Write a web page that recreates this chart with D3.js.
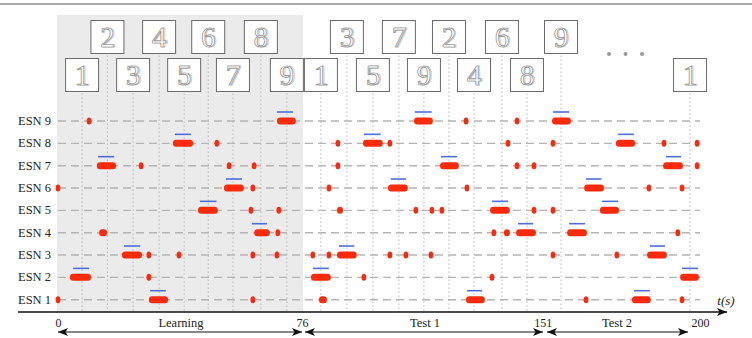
<!DOCTYPE html>
<html>
<head>
<meta charset="utf-8">
<script src="https://cdn.jsdelivr.net/npm/d3@7"></script>
<style>
  body { margin: 0; background: #fff; }
  svg { display: block; font-family: "Liberation Serif", "DejaVu Serif", serif; }
</style>
</head>
<body>
<div id="chart"></div>
<script>
// rows (reservoirs)
var esnNames = ["ESN 1", "ESN 2", "ESN 3", "ESN 4", "ESN 5", "ESN 6", "ESN 7", "ESN 8", "ESN 9"];

// phases: [start, end] in seconds
var phaseNames = ["Learning", "Test 1", "Test 2"];
var phaseBounds = [[0, 76], [76, 151], [151, 200]];
var tickValues = [0, 76, 151, 200];

// presented symbols: time (s), digit, level (0 = upper row, 1 = lower row)
var symbolTimes  = [7.5, 15.4, 23.4, 31.5, 39.3, 46.8, 54.5, 63.2, 71.3,
                    81.9, 90.0, 98.1, 106.2, 114.0, 121.8, 129.6, 138.3, 146.1,
                    156.7, 196.9];
var symbolDigits = [1, 2, 3, 4, 5, 6, 7, 8, 9,
                    1, 3, 5, 7, 9, 2, 4, 6, 8,
                    9, 1];
var symbolLevel  = [1, 0, 1, 0, 1, 0, 1, 0, 1,
                    1, 0, 1, 0, 1, 0, 1, 0, 1,
                    0, 1];

// target windows (blue): [esn, start, end]
var targets = [
  [2, 4.7, 9.7], [7, 12.5, 17.5], [3, 20.6, 25.6], [1, 28.7, 33.6], [8, 36.4, 41.4],
  [5, 44.2, 49.4], [6, 52.3, 57.3], [4, 60.4, 65.1], [9, 68.2, 73.2],
  [2, 79.4, 84.4], [3, 87.5, 92.3], [8, 95.3, 100.5], [6, 103.7, 108.4], [9, 111.2, 116.4],
  [7, 119.3, 124.3], [1, 127.4, 132.1], [5, 135.2, 140.2], [4, 143.3, 148.0],
  [9, 154.2, 159.2], [4, 159.2, 164.2], [6, 164.5, 169.3], [5, 169.5, 174.5],
  [8, 174.5, 179.4], [1, 179.4, 184.4], [3, 184.4, 189.1], [7, 189.4, 194.1], [2, 194.4, 199.4]
];

// detections (red): [esn, start, end]; start == end is a single spike
var detections = [
  [9, 9.7, 9.7], [9, 68.2, 74.1], [9, 110.9, 116.8], [9, 127.1, 127.1], [9, 143.0, 143.0], [9, 153.9, 159.8],
  [8, 35.8, 42.1], [8, 49.5, 49.5], [8, 87.2, 87.2], [8, 95.0, 101.2], [8, 103.4, 103.4], [8, 140.2, 140.2],
  [8, 154.2, 154.2], [8, 173.8, 179.8], [8, 188.8, 188.8], [8, 199.1, 199.1],
  [7, 12.1, 18.1], [7, 25.9, 25.9], [7, 53.3, 53.3], [7, 61.1, 61.1], [7, 87.2, 87.2], [7, 119.0, 124.9],
  [7, 143.0, 143.0], [7, 148.3, 148.3], [7, 188.5, 194.7], [7, 199.1, 199.1],
  [6, 0, 0], [6, 51.7, 57.9], [6, 60.7, 60.7], [6, 84.4, 84.4], [6, 102.8, 109.0], [6, 127.4, 127.4],
  [6, 163.9, 170.1], [6, 184.1, 184.1], [6, 194.4, 194.4],
  [5, 43.6, 49.8], [5, 60.1, 60.1], [5, 68.8, 68.8], [5, 86.9, 88.8], [5, 111.5, 111.5], [5, 116.5, 116.5],
  [5, 119.6, 119.6], [5, 134.6, 140.8], [5, 148.3, 148.3], [5, 154.2, 154.2], [5, 168.8, 174.8],
  [4, 12.8, 15.3], [4, 61.1, 66.0], [4, 68.5, 68.5], [4, 135.8, 135.8], [4, 138.9, 140.8], [4, 142.7, 148.9],
  [4, 158.6, 164.8], [4, 193.1, 193.1],
  [3, 19.9, 26.2], [3, 28.3, 28.3], [3, 37.7, 37.7], [3, 60.7, 60.7], [3, 68.2, 68.2], [3, 79.4, 79.4],
  [3, 84.4, 84.4], [3, 86.9, 93.1], [3, 103.4, 103.4], [3, 108.4, 108.4], [3, 116.2, 116.2], [3, 154.2, 154.2],
  [3, 174.1, 174.1], [3, 183.5, 189.7],
  [2, 3.7, 10.3], [2, 28.3, 28.3], [2, 78.8, 85.0], [2, 95.3, 95.3], [2, 135.2, 135.2], [2, 193.8, 199.7],
  [1, 0, 0], [1, 28.3, 34.3], [1, 60.7, 60.7], [1, 81.3, 83.8], [1, 127.1, 133.0], [1, 164.5, 164.5],
  [1, 178.8, 184.7], [1, 194.4, 194.4]
];

var W = 752, H = 338;
var svg = d3.select("#chart").append("svg")
  .attr("width", W)
  .attr("height", H);

var x = d3.scaleLinear().domain([0, 200]).range([58, 700]);
var y = d3.scaleLinear().domain([1, 9]).range([299.7, 121]);
var axisY = 312;

var red = "#fb2a0c", blue = "#4d6fdc";

// top rule
svg.append("line")
  .attr("x1", 0).attr("x2", W).attr("y1", 4).attr("y2", 4)
  .attr("stroke", "#555").attr("stroke-width", 1.2);

// learning background
svg.append("rect")
  .attr("x", x(0) - 1).attr("y", 15)
  .attr("width", x(76) - x(0) + 2).attr("height", axisY - 15)
  .attr("fill", "#ebebeb");

// row dashed lines
svg.append("g").selectAll("line")
  .data(esnNames)
  .enter().append("line")
  .attr("x1", x(0)).attr("x2", x(200))
  .attr("y1", function(d, i) { return y(i + 1); })
  .attr("y2", function(d, i) { return y(i + 1); })
  .attr("stroke", "#b4b4b4").attr("stroke-width", 1.4)
  .attr("stroke-dasharray", "8,5");

// row labels
svg.append("g").selectAll("text")
  .data(esnNames)
  .enter().append("text")
  .attr("x", 51)
  .attr("y", function(d, i) { return y(i + 1) + 4; })
  .attr("text-anchor", "end")
  .attr("font-size", 12.5)
  .attr("fill", "#222")
  .text(function(d) { return d; });

// symbol boxes + dotted guides
var boxSize = 33, boxTop = [20.5, 58.5];
var symbols = symbolTimes.map(function(t, i) {
  return { t: t, digit: symbolDigits[i], level: symbolLevel[i] };
});

svg.append("g").selectAll("line")
  .data(symbols)
  .enter().append("line")
  .attr("x1", function(d) { return x(d.t); })
  .attr("x2", function(d) { return x(d.t); })
  .attr("y1", function(d) { return boxTop[d.level] + boxSize + 2; })
  .attr("y2", axisY)
  .attr("stroke", "#b8b8b8").attr("stroke-width", 1)
  .attr("stroke-dasharray", "1.5,2.5");

var box = svg.append("g").selectAll("g")
  .data(symbols)
  .enter().append("g")
  .attr("transform", function(d) {
    return "translate(" + (x(d.t) - boxSize / 2) + "," + boxTop[d.level] + ")";
  });

box.append("rect")
  .attr("width", boxSize).attr("height", boxSize)
  .attr("fill", "#fff").attr("stroke", "#6a6a6a").attr("stroke-width", 1);

// outlined digit, drawn twice for the double-stroke look
box.append("text")
  .attr("x", boxSize / 2 + 1.3).attr("y", boxSize / 2 + 10)
  .attr("text-anchor", "middle")
  .attr("font-size", 29)
  .attr("fill", "none").attr("stroke", "#c4c4c4").attr("stroke-width", 0.8)
  .text(function(d) { return d.digit; });
box.append("text")
  .attr("x", boxSize / 2).attr("y", boxSize / 2 + 10)
  .attr("text-anchor", "middle")
  .attr("font-size", 29)
  .attr("fill", "#fcfcfc").attr("stroke", "#8a8a8a").attr("stroke-width", 0.7)
  .text(function(d) { return d.digit; });

// ellipsis
svg.append("g").selectAll("circle")
  .data([0, 1, 2])
  .enter().append("circle")
  .attr("cx", function(d) { return 609 + d * 16.5; })
  .attr("cy", 54)
  .attr("r", 2)
  .attr("fill", "#999");

// targets (blue)
svg.append("g").selectAll("line")
  .data(targets)
  .enter().append("line")
  .attr("x1", function(d) { return x(d[1]); })
  .attr("x2", function(d) { return x(d[2]); })
  .attr("y1", function(d) { return y(d[0]) - 9; })
  .attr("y2", function(d) { return y(d[0]) - 9; })
  .attr("stroke", blue).attr("stroke-width", 1.6);

// detections (red)
var det = svg.append("g");
det.selectAll("rect")
  .data(detections.filter(function(d) { return d[2] > d[1]; }))
  .enter().append("rect")
  .attr("x", function(d) { return x(d[1]); })
  .attr("y", function(d) { return y(d[0]) - 3.5; })
  .attr("width", function(d) { return x(d[2]) - x(d[1]); })
  .attr("height", 7)
  .attr("rx", 3.2).attr("ry", 3.5)
  .attr("fill", red);
det.selectAll("ellipse")
  .data(detections.filter(function(d) { return d[2] === d[1]; }))
  .enter().append("ellipse")
  .attr("cx", function(d) { return x(d[1]); })
  .attr("cy", function(d) { return y(d[0]); })
  .attr("rx", 2.4).attr("ry", 3.5)
  .attr("fill", red);

// arrowhead marker
var defs = svg.append("defs");
defs.append("marker")
  .attr("id", "head")
  .attr("viewBox", "0 0 10 8")
  .attr("refX", 10).attr("refY", 4)
  .attr("markerWidth", 10).attr("markerHeight", 8)
  .attr("markerUnits", "userSpaceOnUse")
  .attr("orient", "auto-start-reverse")
  .append("path")
  .attr("d", "M0,0 L10,4 L0,8 L2.5,4 Z")
  .attr("fill", "#111");

// time axis
svg.append("line")
  .attr("x1", 18).attr("x2", 727)
  .attr("y1", axisY).attr("y2", axisY)
  .attr("stroke", "#111").attr("stroke-width", 1.3)
  .attr("marker-end", "url(#head)");

var xAxis = svg.append("g")
  .attr("transform", "translate(0," + axisY + ")")
  .call(d3.axisBottom(x).tickValues(tickValues).tickSize(0).tickPadding(6));
xAxis.select(".domain").remove();
xAxis.selectAll("text")
  .attr("font-family", "Liberation Serif, serif")
  .attr("font-size", 12)
  .attr("fill", "#222");

svg.append("text")
  .attr("x", 726).attr("y", 305)
  .attr("text-anchor", "middle")
  .attr("font-size", 13)
  .attr("font-style", "italic")
  .attr("fill", "#222")
  .text("t(s)");

// phase arrows
var phaseEnds = [[58, 302], [305, 543], [547, 688]];
var phaseTextX = [181, 425, 617];
svg.append("g").selectAll("line")
  .data(phaseBounds)
  .enter().append("line")
  .attr("x1", function(d, i) { return phaseEnds[i][0]; })
  .attr("x2", function(d, i) { return phaseEnds[i][1]; })
  .attr("y1", 332).attr("y2", 332)
  .attr("stroke", "#111").attr("stroke-width", 1.2)
  .attr("marker-start", "url(#head)")
  .attr("marker-end", "url(#head)");

svg.append("g").selectAll("text")
  .data(phaseNames)
  .enter().append("text")
  .attr("x", function(d, i) { return phaseTextX[i]; })
  .attr("y", 327)
  .attr("text-anchor", "middle")
  .attr("font-size", 12.5)
  .attr("fill", "#222")
  .text(function(d) { return d; });
</script>
</body>
</html>
